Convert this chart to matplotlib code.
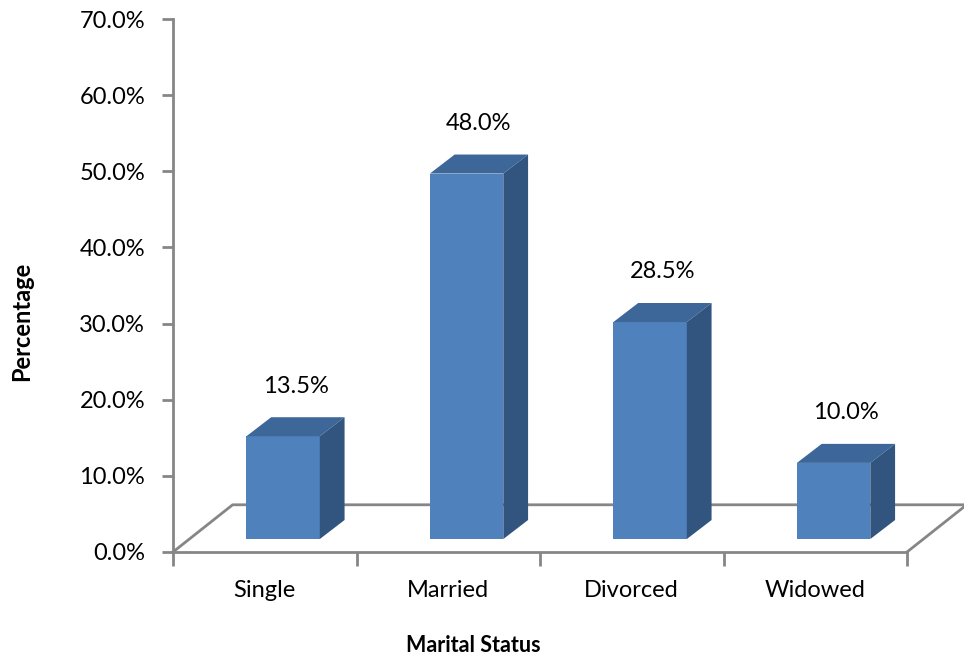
import matplotlib
matplotlib.use('Agg')
import matplotlib.pyplot as plt
from matplotlib.patches import Polygon
from matplotlib.ticker import FixedLocator, FuncFormatter

plt.rcParams['font.family'] = ['Lato', 'DejaVu Sans']

categories = ['Single', 'Married', 'Divorced', 'Widowed']
values = [13.5, 48.0, 28.5, 10.0]
value_labels = ['13.5%', '48.0%', '28.5%', '10.0%']
y_ticks = [0, 10, 20, 30, 40, 50, 60, 70]

# pseudo-3D geometry (data units)
floor_dx, floor_dy = 0.325, 6.2     # depth of the floor
base_shift, base_lift = 0.10, 1.7   # where bars stand on the floor
bar_w = 0.40
depth_dx, depth_dy = 0.135, 2.5     # bar depth
face_c, top_c, side_c = '#4F81BD', '#3D6699', '#32557F'
grid_c = '#868686'
fs = 17

fig = plt.figure(figsize=(9.64, 6.58), dpi=100)
W, H = 964, 658
ax = fig.add_axes([173 / W, (H - 552) / H, (907 - 173) / W, (552 - 19) / H])
ax.set_xlim(-0.5, len(categories) - 0.5)
ax.set_ylim(0, 70)

for s in ['top', 'right']:
    ax.spines[s].set_visible(False)
for s in ['left', 'bottom']:
    ax.spines[s].set_color(grid_c)
    ax.spines[s].set_linewidth(2)

# floor
x0, x1 = -0.5, len(categories) - 0.5
ax.plot([x0, x0 + floor_dx, x1 + floor_dx, x1], [0, floor_dy, floor_dy, 0],
        color=grid_c, lw=2, clip_on=False, zorder=1)

# bars
for i, v in enumerate(values):
    l = i + base_shift - bar_w / 2
    r = l + bar_w
    b = base_lift
    t = base_lift + v
    ax.add_patch(Polygon([(l, b), (r, b), (r, t), (l, t)], closed=True,
                         facecolor=face_c, edgecolor='none', zorder=3, clip_on=False))
    ax.add_patch(Polygon([(l, t), (r, t), (r + depth_dx, t + depth_dy), (l + depth_dx, t + depth_dy)],
                         closed=True, facecolor=top_c, edgecolor='none', zorder=3, clip_on=False))
    ax.add_patch(Polygon([(r, b), (r + depth_dx, b + depth_dy), (r + depth_dx, t + depth_dy), (r, t)],
                         closed=True, facecolor=side_c, edgecolor='none', zorder=3, clip_on=False))
    ax.text(i + base_shift + depth_dx / 2, t + depth_dy + 4.1, value_labels[i],
            ha='center', va='center', fontsize=fs, color='black')

ax.yaxis.set_major_locator(FixedLocator(y_ticks))
ax.yaxis.set_major_formatter(FuncFormatter(lambda v, p: '%.1f%%' % v))
ax.tick_params(axis='y', direction='out', length=8, width=2, color=grid_c,
               labelsize=fs, pad=12)

ax.set_xticks(range(len(categories)))
ax.set_xticklabels(categories, fontsize=fs)
ax.set_xticks([k - 0.5 for k in range(len(categories) + 1)], minor=True)
ax.tick_params(axis='x', which='major', length=0, pad=20)
ax.tick_params(axis='x', which='minor', direction='out', length=10, width=2, color=grid_c)

fig.text(473 / W, 1 - 646 / H, 'Marital Status', ha='center', va='center',
         fontsize=15.5, fontweight='bold')
fig.text(22 / W, 1 - 321 / H, 'Percentage', ha='center', va='center',
         rotation=90, fontsize=17, fontweight='bold')

fig.savefig('out.png', dpi=100)
